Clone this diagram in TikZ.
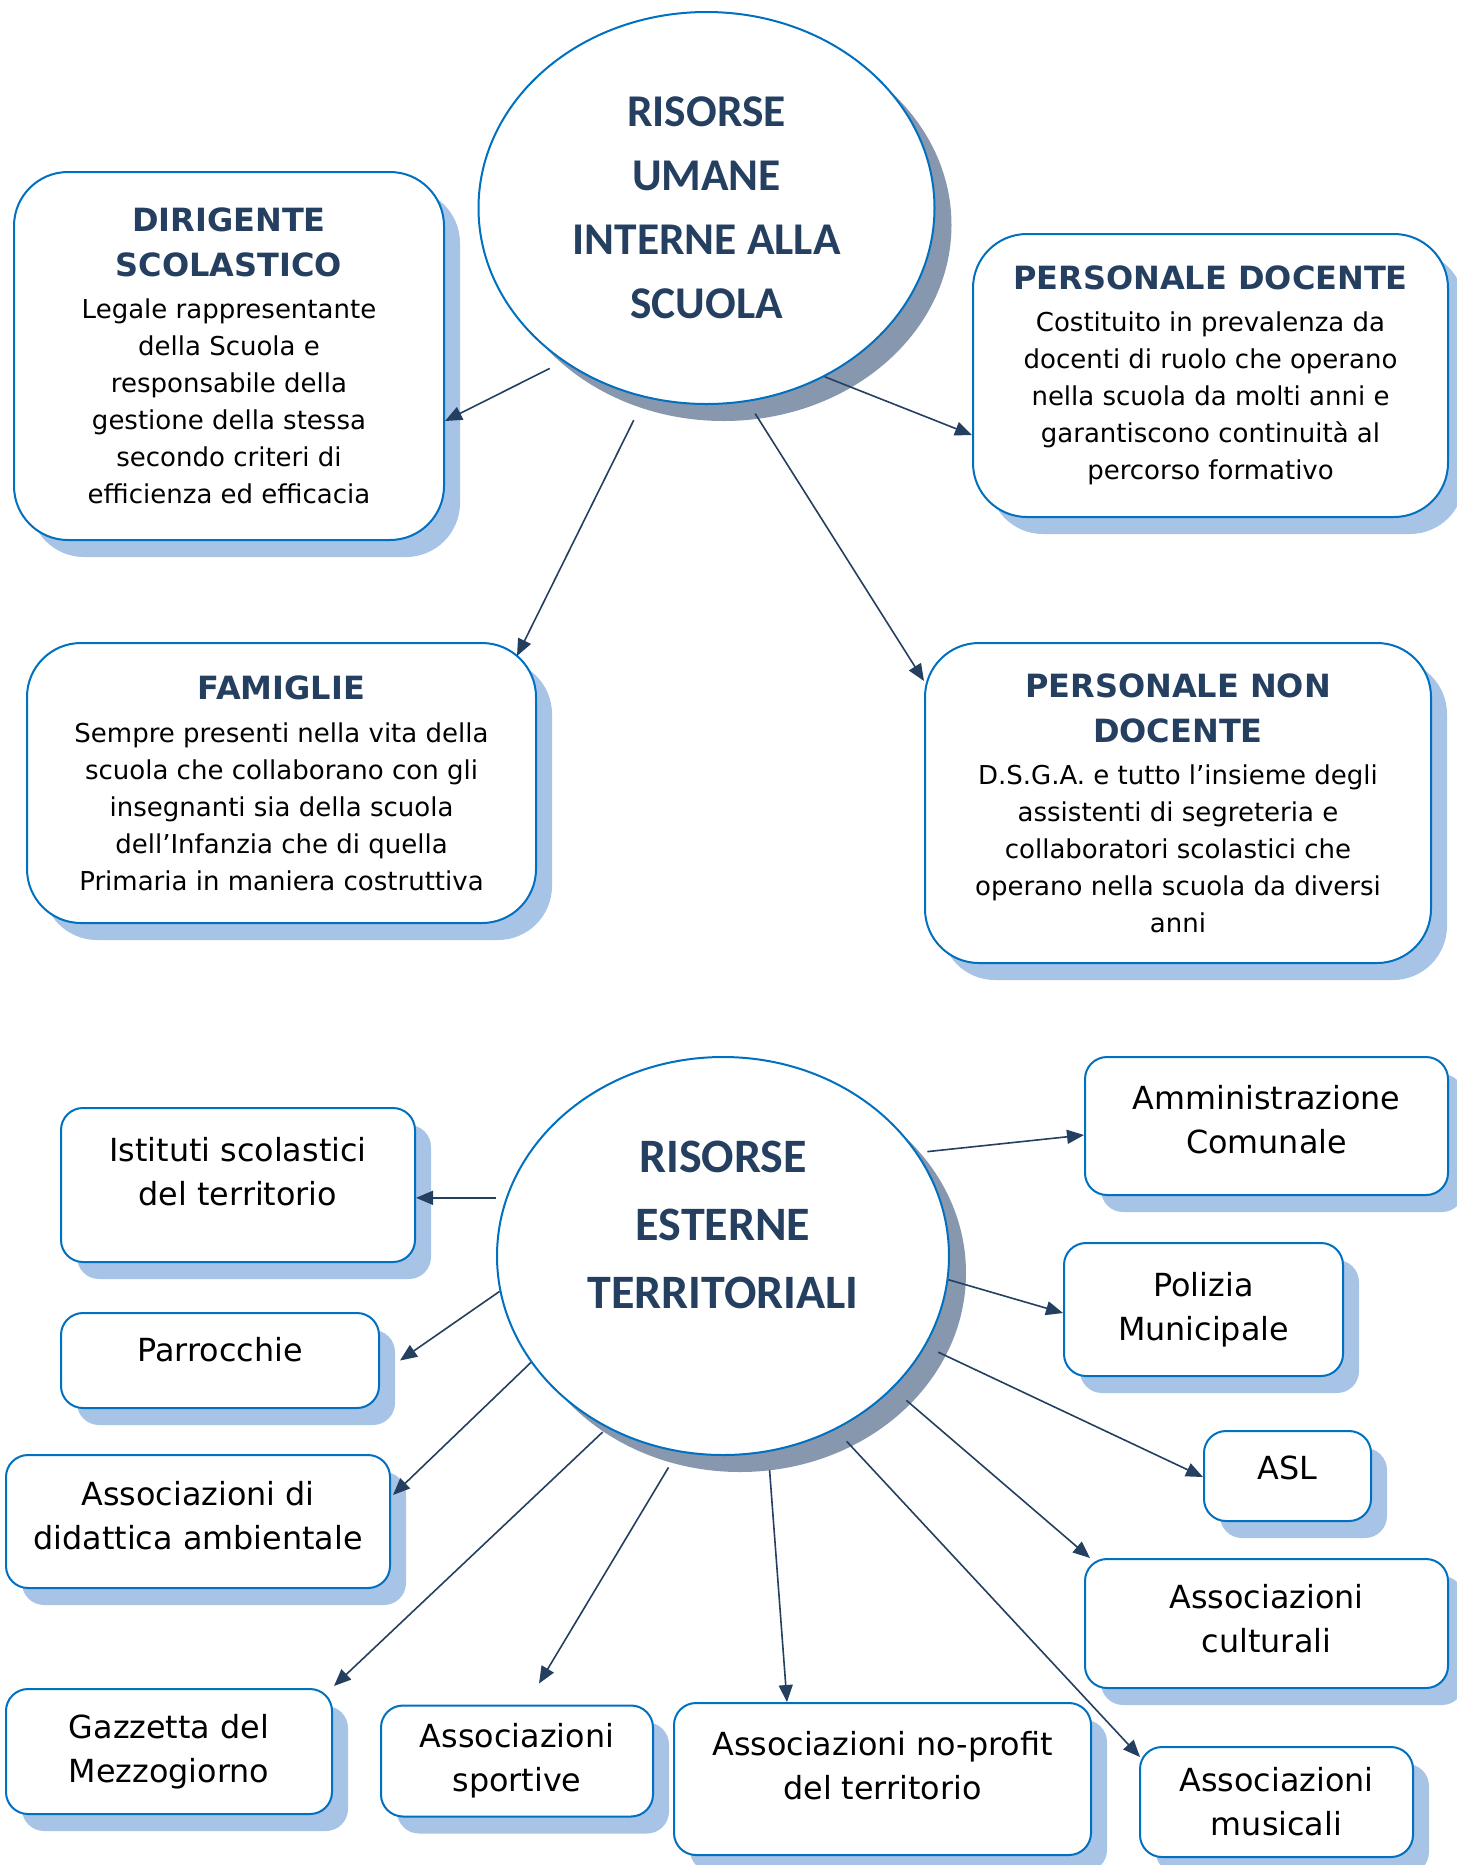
\documentclass[tikz,border=0pt]{standalone}
\usepackage{fontspec}
\setmainfont{DejaVu Sans}
\newfontfamily\titlefont{Carlito}
\usetikzlibrary{shapes.geometric,shadows,calc,arrows.meta}

\definecolor{navy}{HTML}{243F60}
\definecolor{edgeblue}{HTML}{0070C0}
\definecolor{boxshade}{HTML}{A7C3E6}
\definecolor{ovalshade}{HTML}{8797AE}

\def\headA#1{{\color{navy}\bfseries\fontsize{16}{22}\selectfont #1}}
\def\lift#1{\rule[-#1]{0pt}{#1}}

\tikzset{
  oval/.style={ellipse, draw=edgeblue, line width=1pt, fill=white, inner sep=0pt,
    text=navy, align=center,
    drop shadow={shadow xshift=8.5pt, shadow yshift=-8.5pt, fill=ovalshade, opacity=1}},
  bigbox/.style={rectangle, rounded corners=27pt, draw=edgeblue, line width=1pt,
    fill=white, inner sep=0pt, align=center, font=\fontsize{13}{18.5}\selectfont,
    drop shadow={shadow xshift=8pt, shadow yshift=-8.5pt, fill=boxshade, opacity=1}},
  smallbox/.style={bigbox, rounded corners=11pt, font=\fontsize{15.9}{22}\selectfont},
  link/.style={draw=navy, line width=0.8pt, -{Triangle[length=8.5pt,width=7pt]}}
}

\begin{document}
\begin{tikzpicture}[x=0.5pt,y=-0.5pt]
\useasboundingbox (0,0) rectangle (1457,1865);

%internal resources
\node[oval, minimum width=228pt, minimum height=196pt,
  font=\titlefont\bfseries\fontsize{22.7}{32}\selectfont] (interne) at (706.5,208)
  {RISORSE\\UMANE\\INTERNE ALLA\\SCUOLA};

\node[bigbox, minimum width=215pt, minimum height=184pt] (dirigente) at (229,356)
  {\headA{DIRIGENTE}\\[4pt]\headA{SCOLASTICO}\\[2.5pt]Legale rappresentante\\della Scuola e\\responsabile della\\gestione della stessa\\secondo criteri di\\efficienza ed efficacia};
\node[bigbox, minimum width=237.5pt, minimum height=141.5pt] (docente) at (1210.5,375.5)
  {\headA{PERSONALE DOCENTE}\\[2.5pt]Costituito in prevalenza da\\docenti di ruolo che operano\\nella scuola da molti anni e\\garantiscono continuità al\\percorso formativo};
\node[bigbox, minimum width=254.5pt, minimum height=140pt] (famiglie) at (281.5,783)
  {\headA{FAMIGLIE}\\[3pt]Sempre presenti nella vita della\\scuola che collaborano con gli\\insegnanti sia della scuola\\dell’Infanzia che di quella\\Primaria in maniera costruttiva};
\node[bigbox, minimum width=253pt, minimum height=160pt] (nondocente) at (1178,803)
  {\headA{PERSONALE NON}\\[4pt]\headA{DOCENTE}\\[2.5pt]D.S.G.A. e tutto l’insieme degli\\assistenti di segreteria e\\collaboratori scolastici che\\operano nella scuola da diversi\\anni};

\draw[link, shorten <=7.5pt] (interne.-133) -- ($(dirigente.east)+(0,65)$);
\draw[link, shorten <=12.5pt] (interne.-108) -- ($(famiglie.north east)+(-20,14)$);
\draw[link] (interne.-55) -- ($(docente.west)+(0,59.5)$);
\draw[link, shorten <=7pt] (interne.-78) -- ($(nondocente.north west)+(0,39)$);

%external resources
\node[oval, minimum width=226pt, minimum height=199pt,
  label={[text=navy, align=center, yshift=15.5pt,
    font=\titlefont\bfseries\fontsize{24}{34}\selectfont]center:{RISORSE\\ESTERNE\\TERRITORIALI}}]
  (esterne) at (723,1256) {};

\node[smallbox, minimum width=177pt, minimum height=77pt] (istituti) at (238,1185) {Istituti scolastici\\del territorio\lift{14pt}};
\node[smallbox, minimum width=181.5pt, minimum height=69pt] (comune) at (1266.5,1126) {Amministrazione\\Comunale\lift{7pt}};
\node[smallbox, minimum width=139.5pt, minimum height=66.5pt] (polizia) at (1203.5,1309.5) {Polizia\\Municipale\lift{3.5pt}};
\node[smallbox, minimum width=159pt, minimum height=47.5pt] (parrocchie) at (220,1360.5) {Parrocchie\lift{10.7pt}};
\node[smallbox, minimum width=83.5pt, minimum height=45pt] (asl) at (1287.5,1476) {ASL\lift{8.3pt}};
\node[smallbox, minimum width=192pt, minimum height=66.5pt] (ambiente) at (198,1521.5) {Associazioni di\\didattica ambientale\lift{6pt}};
\node[smallbox, minimum width=181.5pt, minimum height=64.5pt] (cultura) at (1266.5,1623.5) {Associazioni\\culturali\lift{4.8pt}};
\node[smallbox, minimum width=163pt, minimum height=62.5pt] (gazzetta) at (169,1751.5) {Gazzetta del\\Mezzogiorno};
\node[smallbox, minimum width=136pt, minimum height=55.5pt] (sport) at (517,1761) {Associazioni\\sportive};
\node[smallbox, minimum width=208.5pt, minimum height=76pt] (noprofit) at (882.5,1779) {Associazioni no-profit\\del territorio\lift{14pt}};
\node[smallbox, minimum width=136.5pt, minimum height=55pt] (musica) at (1276.5,1802) {Associazioni\\musicali};

\draw[link, shorten <=5pt] (esterne.165) -- (esterne.165 -| istituti.east);
\draw[link, shorten <=5pt] (esterne.28) -- ($(comune.west)+(0,9)$);
\draw[link] (esterne.-171) -- ($(parrocchie.east)+(20,0)$);
\draw[link] (esterne.-6) -- ($(polizia.west)+(0,3.5)$);
\draw[link] (esterne.-151) -- ($(ambiente.east)+(2,-26.5)$);
\draw[link, shorten <=7pt] (esterne.-24) -- ($(asl.west)+(0,1)$);
\draw[link, shorten <=9pt] (esterne.-38) -- ($(cultura.north west)+(6,0)$);
\draw[link, shorten <=3pt] (esterne.-124) -- ($(gazzetta.north east)+(1,-2)$);
\draw[link, shorten <=9pt] (esterne.-103) -- ($(sport.north)+(22,-21)$);
\draw[link, shorten <=9pt] (esterne.-77) -- ($(noprofit.north)+(-95.5,0)$);
\draw[link, shorten <=8pt] (esterne.-57) -- ($(musica.north west)+(1,11)$);
\end{tikzpicture}
\end{document}
